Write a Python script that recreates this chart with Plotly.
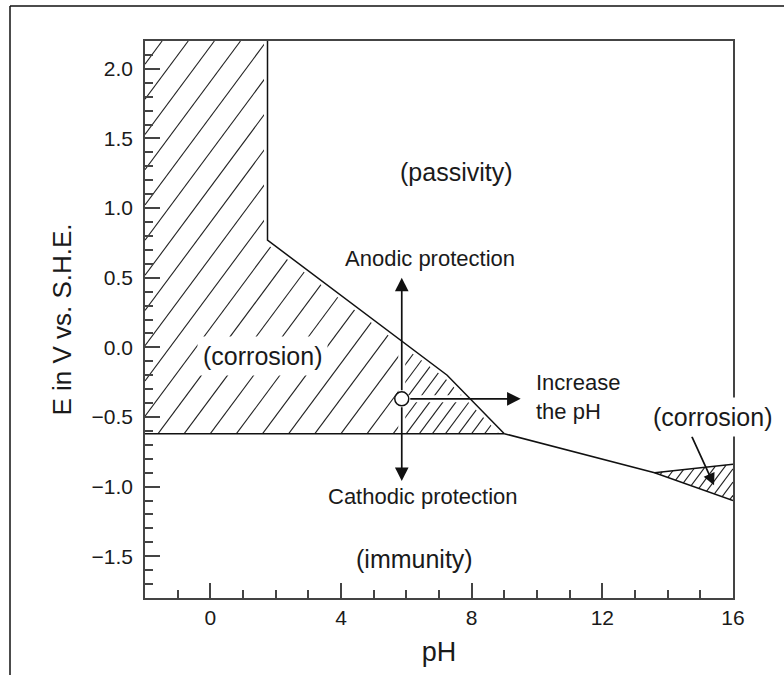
import plotly.graph_objects as go

# Pourbaix-type diagram for iron: regions of corrosion, passivity and immunity
# Boundary between corrosion (left) and passivity/immunity
corr_ph = [-2.0, 1.75, 1.75, 7.25, 9.0, -2.0]
corr_E = [2.2, 2.2, 0.77, -0.20, -0.62, -0.62]

# passivity / immunity boundary at high pH
alk_ph = [9.0, 13.6, 16.0]
alk_E = [-0.62, -0.90, -1.10]

# small alkaline corrosion wedge
wedge_ph = [13.6, 16.0, 16.0]
wedge_E = [-0.90, -0.84, -1.10]

# operating point and the three ways out of the corrosion domain
point_ph, point_E = 5.86, -0.37
anodic_E = 0.50
cathodic_E = -0.96
raise_ph = 9.50

x_range = [-2, 16]
y_range = [-1.8, 2.2]

INK = "#1a1a1a"
AX = "#444444"
FONT = "Liberation Sans, Arial, Helvetica, sans-serif"

# hatch slope (dE/dpH) and horizontal spacing in pH units
HATCH_SLOPE = 0.316


def hatch(poly_x, poly_y, spacing, slope=HATCH_SLOPE, anchor=(0.0, -0.62),
          xmin=None, xmax=None):
    """Diagonal hatch lines clipped to a polygon, returned as None-separated xs, ys."""
    n = len(poly_x)
    cs = [y - slope * x for x, y in zip(poly_x, poly_y)]
    dc = slope * spacing
    c_anchor = anchor[1] - slope * anchor[0]
    k0 = int((min(cs) - c_anchor) // dc) - 1
    k1 = int((max(cs) - c_anchor) // dc) + 1
    xs, ys = [], []
    for k in range(k0, k1 + 1):
        c = c_anchor + k * dc
        hits = []
        for i in range(n):
            x1, y1 = poly_x[i], poly_y[i]
            x2, y2 = poly_x[(i + 1) % n], poly_y[(i + 1) % n]
            f1 = y1 - slope * x1 - c
            f2 = y2 - slope * x2 - c
            if (f1 > 0) != (f2 > 0):
                t = f1 / (f1 - f2)
                hits.append(x1 + t * (x2 - x1))
        hits.sort()
        for a, b in zip(hits[0::2], hits[1::2]):
            if xmin is not None:
                a = max(a, xmin)
            if xmax is not None:
                b = min(b, xmax)
            if b <= a:
                continue
            xs += [a, b, None]
            ys += [slope * a + c, slope * b + c, None]
    return xs, ys


fig = go.Figure()

hatch_line = dict(color="#222222", width=1.1)

# main corrosion domain: wider spacing left of the operating point, denser near the tip
hx, hy = hatch(corr_ph, corr_E, 0.80, xmax=point_ph)
fig.add_trace(go.Scatter(x=hx, y=hy, mode="lines", line=hatch_line, hoverinfo="skip"))
hx, hy = hatch(corr_ph, corr_E, 0.40, xmin=point_ph)
fig.add_trace(go.Scatter(x=hx, y=hy, mode="lines", line=hatch_line, hoverinfo="skip"))

# alkaline wedge
hx, hy = hatch(wedge_ph, wedge_E, 0.30)
fig.add_trace(go.Scatter(x=hx, y=hy, mode="lines", line=hatch_line, hoverinfo="skip"))

# white clearance under boundaries and arrow shafts so hatching stops short of them
gap = dict(color="white", width=7)
fig.add_trace(go.Scatter(x=corr_ph[1:5], y=corr_E[1:5], mode="lines", line=gap, hoverinfo="skip"))
fig.add_trace(go.Scatter(x=[point_ph, point_ph, None, point_ph, raise_ph, None, point_ph, point_ph],
                         y=[point_E, anodic_E, None, point_E, point_E, None, point_E, cathodic_E],
                         mode="lines", line=gap, hoverinfo="skip"))

# phase boundaries
bnd = dict(color="#111111", width=1.5)
fig.add_trace(go.Scatter(x=corr_ph[1:], y=corr_E[1:], mode="lines", line=bnd, hoverinfo="skip"))
fig.add_trace(go.Scatter(x=alk_ph, y=alk_E, mode="lines", line=bnd, hoverinfo="skip"))
fig.add_trace(go.Scatter(x=[wedge_ph[0], wedge_ph[1]], y=[wedge_E[0], wedge_E[1]],
                         mode="lines", line=bnd, hoverinfo="skip"))

# operating point
fig.add_trace(go.Scatter(x=[point_ph], y=[point_E], mode="markers",
                         marker=dict(symbol="circle", size=14, color="white",
                                     line=dict(color="#111111", width=1.5)),
                         hoverinfo="skip"))

annotations = []


def arrow(x, y, ax, ay, standoff=0, size=1.6):
    annotations.append(dict(x=x, y=y, ax=ax, ay=ay, xref="x", yref="y", axref="x", ayref="y",
                            text="", showarrow=True, arrowhead=2, arrowsize=size,
                            arrowwidth=1.7, arrowcolor="#111111", startstandoff=standoff))


arrow(point_ph, anodic_E, point_ph, point_E, 7)
arrow(point_ph, cathodic_E, point_ph, point_E, 7)
arrow(raise_ph, point_E, point_ph, point_E, 7)
arrow(15.42, -0.99, 14.72, -0.63, size=1.4)


def label(text, x, y, size, bg=None, xanchor="center", align="center"):
    d = dict(text=text, x=x, y=y, xref="x", yref="y", showarrow=False,
             font=dict(family=FONT, size=size, color=INK), xanchor=xanchor, align=align)
    if bg:
        d.update(bgcolor=bg, borderpad=5)
    annotations.append(d)


label("(passivity)", 7.55, 1.26, 25)
label("Anodic protection", 6.73, 0.64, 22)
label("(corrosion)", 1.6, -0.06, 25, bg="white")
label("Increase<br>the pH", 9.92, -0.36, 22, xanchor="left", align="left")
label("(corrosion)", 15.36, -0.50, 25, bg="white")
label("Cathodic protection", 6.5, -1.07, 22)
label("(immunity)", 6.26, -1.52, 25)

# outer frame (top and left edges)
W, H = 784, 675
ML, MR, MT, MB = 145, 51, 41, 77
pw, ph_ = W - ML - MR, H - MT - MB


def px_x(px):
    return (px - ML) / pw


def px_y(py):
    return (H - MB - py) / ph_


shapes = [
    dict(type="line", xref="paper", yref="paper", x0=px_x(10), y0=px_y(6), x1=px_x(W + 5), y1=px_y(6),
         line=dict(color="#111111", width=1.5)),
    dict(type="line", xref="paper", yref="paper", x0=px_x(10), y0=px_y(6), x1=px_x(10), y1=px_y(H + 5),
         line=dict(color="#111111", width=1.5)),
]

axis_common = dict(showgrid=False, zeroline=False, showline=True, linecolor=AX, linewidth=1.5,
                   mirror=True, ticks="inside", ticklen=15, tickwidth=1.5, tickcolor=AX,
                   tickfont=dict(family=FONT, size=21, color=INK))

fig.update_layout(
    width=W, height=H,
    margin=dict(l=ML, r=MR, t=MT, b=MB),
    paper_bgcolor="white", plot_bgcolor="white",
    showlegend=False,
    annotations=annotations,
    shapes=shapes,
    xaxis=dict(range=x_range, tick0=0, dtick=4,
               minor=dict(dtick=1, tick0=0, ticks="inside", ticklen=8, tickwidth=1.5, tickcolor=AX),
               title=dict(text="pH", font=dict(family=FONT, size=27, color=INK), standoff=14),
               **axis_common),
    yaxis=dict(range=y_range, tick0=0, dtick=0.5, tickformat=".1f", ticklabelstandoff=6,
               minor=dict(dtick=0.1, tick0=0, ticks="inside", ticklen=8, tickwidth=1.5, tickcolor=AX),
               title=dict(text="E in V vs. S.H.E.", font=dict(family=FONT, size=26, color=INK),
                          standoff=12),
               **axis_common),
)

fig.write_html("out.html")
